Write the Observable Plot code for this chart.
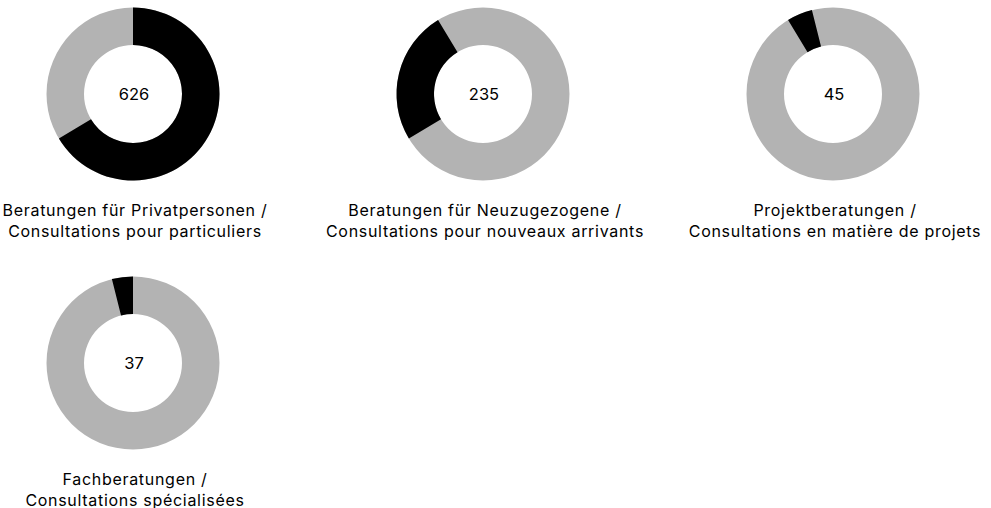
<!DOCTYPE html>
<html>
<head>
<meta charset="utf-8">
<script src="https://cdn.jsdelivr.net/npm/d3@7"></script>
<script src="https://cdn.jsdelivr.net/npm/@observablehq/plot@0.6"></script>
<style>
  html, body { margin: 0; padding: 0; background: #fff; }
  body { font-family: Inter, "Noto Sans", sans-serif; color: #000; }
  #grid { display: flex; flex-wrap: wrap; column-gap: 84px; row-gap: 27px; width: 991px; }
  .cell { width: 266px; display: flex; flex-direction: column; align-items: center; }
  .cell svg { display: block; }
  .label { margin-top: 12px; text-align: center; font-size: 16px; letter-spacing: 0.7px; line-height: 21px; white-space: nowrap; padding-left: 4px; }
</style>
</head>
<body>
<div id="grid"></div>
<script>
// Data
const categories = ["privat", "neu", "projekt", "fach"];
const labelsDe = ["Beratungen für Privatpersonen /", "Beratungen für Neuzugezogene /", "Projektberatungen /", "Fachberatungen /"];
const labelsFr = ["Consultations pour particuliers", "Consultations pour nouveaux arrivants", "Consultations en matière de projets", "Consultations spécialisées"];
const values = [626, 235, 45, 37];

const total = d3.sum(values);
const ends = Array.from(d3.cumsum(values));
const starts = ends.map((e, i) => e - values[i]);

const W = 266, H = 188, R_OUT = 86.5, R_IN = 49;

function arcRender(index, scales, v, dims) {
  const arc = d3.arc().innerRadius(R_IN).outerRadius(R_OUT);
  const cx = dims.width / 2, cy = dims.height / 2;
  const g = d3.create("svg:g").attr("transform", `translate(${cx},${cy})`);
  g.selectAll("path")
    .data(index)
    .join("path")
    .attr("d", i => arc({startAngle: v.x1[i], endAngle: v.x2[i]}))
    .attr("fill", i => v.fill[i]);
  return g.node();
}

const grid = document.getElementById("grid");
categories.forEach((c, k) => {
  const segs = [
    {x1: 0, x2: total, color: "#b3b3b3"},
    {x1: starts[k], x2: ends[k], color: "#000000"}
  ];
  const chart = Plot.plot({
    width: W,
    height: H,
    margin: 0,
    x: {domain: [0, total], range: [0, 2 * Math.PI], axis: null},
    color: {type: "identity"},
    style: {fontFamily: "Inter, 'Noto Sans', sans-serif", background: "transparent", overflow: "visible"},
    marks: [
      Plot.barX(segs, {x1: "x1", x2: "x2", fill: "color", render: arcRender}),
      Plot.text([values[k]], {frameAnchor: "middle", text: d => String(d), fontSize: 16.5, fill: "#000", dx: 0.5})
    ]
  });
  const cell = document.createElement("div");
  cell.className = "cell";
  cell.appendChild(chart);
  const lab = document.createElement("div");
  lab.className = "label";
  lab.innerHTML = labelsDe[k] + "<br>" + labelsFr[k];
  cell.appendChild(lab);
  grid.appendChild(cell);
});
</script>
</body>
</html>
